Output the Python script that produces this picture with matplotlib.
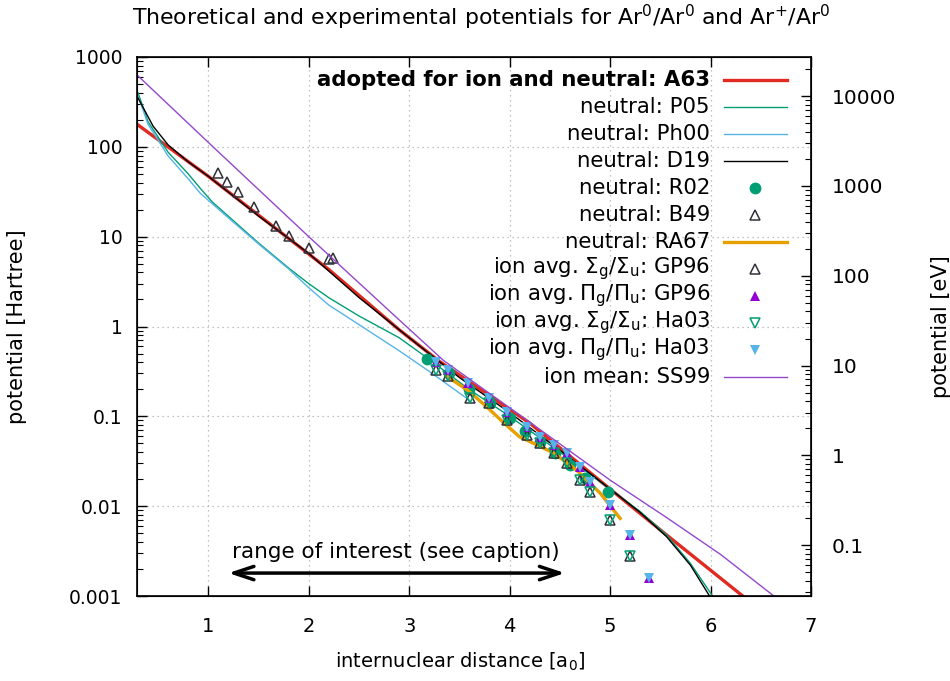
import matplotlib
matplotlib.use("Agg")
import matplotlib.pyplot as plt
from matplotlib.ticker import FixedLocator, FixedFormatter, LogLocator, NullFormatter
from matplotlib.lines import Line2D

plt.rcParams['font.family'] = ['DejaVu Sans']
plt.rcParams['mathtext.fontset'] = 'dejavusans'

HARTREE_EV = 27.211

# ---------------- data ----------------
a63_x = [0.3, 1.0, 2.2, 2.9, 3.3, 4.2, 5.0, 5.56, 6.32]
a63_y = [175, 47, 4.3, 0.92, 0.41, 0.084, 0.0155, 0.0048, 0.001]

p05_x = [0.3, 0.4, 0.6, 0.8, 0.92, 1.04, 1.5, 1.8, 2.0, 2.2, 2.5, 2.9, 3.2, 3.6, 4.0, 4.5, 5.0, 5.3, 5.56, 5.8, 6.02]
p05_y = [400, 190, 87, 50, 34.5, 24.3, 8.5, 4.47, 3.0, 2.09, 1.31, 0.75, 0.43, 0.198, 0.1, 0.04, 0.0155, 0.0087, 0.0048, 0.0023, 0.001]

ph00_x = [0.3, 0.4, 0.6, 0.8, 0.92, 1.2, 1.5, 1.8, 2.0, 2.2, 2.5, 2.9, 3.2, 3.6]
ph00_y = [370, 178, 79, 44, 30.4, 16.2, 8.3, 4.37, 2.7, 1.73, 1.05, 0.537, 0.316, 0.151]

d19_x = [0.3, 0.45, 0.6, 0.8, 1.0, 1.5, 2.0, 2.5, 3.0, 3.5, 4.0, 4.5, 5.0, 5.3, 5.56, 5.8, 5.99]
d19_y = [350, 170, 105, 68, 47, 17, 6.5, 2.1, 0.75, 0.27, 0.11, 0.042, 0.0155, 0.0085, 0.0046, 0.0022, 0.001]

r02_x = [3.18, 3.4, 3.6, 3.8, 4.0, 4.15, 4.3, 4.45, 4.6, 4.75, 4.98]
r02_y = [0.43, 0.30, 0.20, 0.14, 0.095, 0.068, 0.052, 0.039, 0.029, 0.0205, 0.0144]

b49_x = [1.10, 1.19, 1.30, 1.45, 1.67, 1.80, 2.0, 2.2, 2.24]
b49_y = [50.7, 40.9, 31.7, 21.6, 13.2, 10.2, 7.4, 5.7, 5.8]

ra67_x = [3.38, 3.58, 3.77, 3.94, 4.1, 4.24, 4.44, 4.67, 4.9, 5.1]
ra67_y = [0.276, 0.196, 0.128, 0.085, 0.059, 0.050, 0.039, 0.025, 0.014, 0.0073]

gp96_sig_x = [3.27, 3.39, 3.61, 3.79, 3.97, 4.17, 4.3, 4.44, 4.57, 4.70, 4.8, 5.0, 5.2]
gp96_sig_y = [0.33, 0.28, 0.158, 0.14, 0.091, 0.062, 0.050, 0.039, 0.030, 0.0196, 0.0144, 0.0070, 0.0028]

gp96_pi_x = [3.27, 3.39, 3.59, 3.79, 3.97, 4.17, 4.30, 4.44, 4.57, 4.70, 4.80, 5.0, 5.2, 5.39]
gp96_pi_y = [0.405, 0.33, 0.233, 0.158, 0.113, 0.077, 0.059, 0.048, 0.039, 0.0275, 0.0187, 0.0103, 0.0048, 0.0016]

ha03_sig_x = [3.27, 3.39, 3.61, 3.79, 3.97, 4.17, 4.3, 4.44, 4.57, 4.70, 4.8, 5.0, 5.2]
ha03_sig_y = [0.33, 0.28, 0.158, 0.14, 0.091, 0.062, 0.050, 0.039, 0.030, 0.0196, 0.0144, 0.0070, 0.0028]

ha03_pi_x = [3.27, 3.39, 3.59, 3.79, 3.97, 4.17, 4.30, 4.44, 4.57, 4.70, 4.80, 5.0, 5.2, 5.39]
ha03_pi_y = [0.405, 0.33, 0.233, 0.158, 0.113, 0.077, 0.059, 0.048, 0.039, 0.0275, 0.0187, 0.0103, 0.0048, 0.0016]

ss99_x = [0.3, 1.0, 2.0, 2.8, 3.34, 4.2, 5.0, 5.56, 6.1, 6.63]
ss99_y = [617, 112, 10, 1.5, 0.42, 0.086, 0.0195, 0.0075, 0.0029, 0.001]

labels = [
    "adopted for ion and neutral: A63",
    "neutral: P05",
    "neutral: Ph00",
    "neutral: D19",
    "neutral: R02",
    "neutral: B49",
    "neutral: RA67",
    r"ion avg. $\Sigma_{\mathrm{g}}/\Sigma_{\mathrm{u}}$: GP96",
    r"ion avg. $\Pi_{\mathrm{g}}/\Pi_{\mathrm{u}}$: GP96",
    r"ion avg. $\Sigma_{\mathrm{g}}/\Sigma_{\mathrm{u}}$: Ha03",
    r"ion avg. $\Pi_{\mathrm{g}}/\Pi_{\mathrm{u}}$: Ha03",
    "ion mean: SS99",
]

left_ticks = [0.001, 0.01, 0.1, 1, 10, 100, 1000]
left_ticklabels = ["0.001", "0.01", "0.1", "1", "10", "100", "1000"]
right_ticks = [0.1, 1, 10, 100, 1000, 10000]
right_ticklabels = ["0.1", "1", "10", "100", "1000", "10000"]
x_ticks = [1, 2, 3, 4, 5, 6, 7]

# ---------------- styles ----------------
RED = '#e02a22'
TEAL = '#009e73'
CYAN = '#56b4e9'
ORANGE = '#e6a000'
PURPLE = '#9448cc'
DARK = '#303038'
PURP_F = '#9400d3'

series = [
    (a63_x, a63_y, dict(color=RED, lw=2.4, ls='-')),
    (p05_x, p05_y, dict(color=TEAL, lw=1.0, ls='-')),
    (ph00_x, ph00_y, dict(color=CYAN, lw=1.0, ls='-')),
    (d19_x, d19_y, dict(color='black', lw=1.0, ls='-')),
    (r02_x, r02_y, dict(color=TEAL, ls='none', marker='o', ms=7.5, mec=TEAL)),
    (b49_x, b49_y, dict(color=DARK, ls='none', marker='^', ms=6.5, mfc='none', mew=1.1)),
    (ra67_x, ra67_y, dict(color=ORANGE, lw=2.4, ls='-')),
    (gp96_sig_x, gp96_sig_y, dict(color=DARK, ls='none', marker='^', ms=6.5, mfc='none', mew=1.1)),
    (gp96_pi_x, gp96_pi_y, dict(color=PURP_F, ls='none', marker='^', ms=6.5, mew=0)),
    (ha03_sig_x, ha03_sig_y, dict(color=TEAL, ls='none', marker='v', ms=6.5, mfc='none', mew=1.1)),
    (ha03_pi_x, ha03_pi_y, dict(color=CYAN, ls='none', marker='v', ms=7.5, mew=0)),
    (ss99_x, ss99_y, dict(color=PURPLE, lw=1.0, ls='-')),
]

# ---------------- figure ----------------
fig = plt.figure(figsize=(9.5, 6.81), dpi=100)
ax = fig.add_axes([137 / 950, 85 / 681, 674 / 950, 539 / 681])
ax.set_yscale('log')
ax.set_xlim(0.29, 7.0)
ax.set_ylim(1e-3, 1e3)

for xs, ys, st in series:
    ax.plot(xs, ys, **st, clip_on=True)

# grid
ax.grid(True, which='major', axis='both', color='#b0b0b0', lw=0.9, ls=(0, (1, 3)))
ax.set_axisbelow(True)

# ticks
ax.xaxis.set_major_locator(FixedLocator(x_ticks))
ax.set_xticklabels([str(t) for t in x_ticks])
ax.yaxis.set_major_locator(FixedLocator(left_ticks))
ax.yaxis.set_major_formatter(FixedFormatter(left_ticklabels))
ax.yaxis.set_minor_locator(LogLocator(base=10, subs=range(2, 10), numticks=20))
ax.yaxis.set_minor_formatter(NullFormatter())
ax.tick_params(axis='x', which='major', direction='in', top=True, length=7, width=1.0, labelsize=14, pad=15)
ax.tick_params(axis='y', which='major', direction='in', right=False, length=7, width=1.0, labelsize=13.5, pad=10.5)
ax.tick_params(axis='y', which='minor', direction='in', right=False, length=4, width=0.8)
for sp in ax.spines.values():
    sp.set_linewidth(1.2)

ax2 = ax.twinx()
ax2.set_yscale('log')
ax2.set_ylim(1e-3 * HARTREE_EV, 1e3 * HARTREE_EV)
ax2.yaxis.set_major_locator(FixedLocator(right_ticks))
ax2.yaxis.set_major_formatter(FixedFormatter(right_ticklabels))
ax2.yaxis.set_minor_locator(LogLocator(base=10, subs=range(2, 10), numticks=20))
ax2.yaxis.set_minor_formatter(NullFormatter())
ax2.tick_params(axis='y', which='major', direction='in', length=7, width=1.0, labelsize=14.5, pad=15)
ax2.tick_params(axis='y', which='minor', direction='in', length=4, width=0.8)

ax.set_xlabel(r"internuclear distance [a$_0$]", fontsize=14)
ax.xaxis.set_label_coords((460 - 137) / 674, -0.102)
ax.set_ylabel("potential [Hartree]", fontsize=15)
ax.yaxis.set_label_coords(-0.163, 0.5)
ax2.set_ylabel("potential [eV]", fontsize=15, labelpad=25)

fig.text(481 / 950, 1 - 17 / 681,
         r"Theoretical and experimental potentials for Ar$^0$/Ar$^0$ and Ar$^{+}$/Ar$^0$",
         ha='center', va='center', fontsize=15.8)

# arrow: range of interest
ax.annotate('', xy=(1.2, 0.0018), xytext=(4.55, 0.0018),
            arrowprops=dict(arrowstyle='<->,head_length=0.6,head_width=0.2', lw=2.5,
                            color='black', mutation_scale=24, shrinkA=0, shrinkB=0))
ax.text(2.87, 0.0031, "range of interest (see caption)", ha='center', va='center', fontsize=15.5)

# manual legend (gnuplot-like key)
x_text = (710 - 137) / 674
x_l0 = (724 - 137) / 674
x_l1 = (787 - 137) / 674
x_mk = (755 - 137) / 674
for i, (lab, (xs, ys, st)) in enumerate(zip(labels, series)):
    yy = (596 - (80 + 27.0 * i)) / 539
    ax.text(x_text, yy, lab, transform=ax.transAxes, ha='right', va='center',
            fontsize=15.3, fontweight='bold' if i == 0 else 'normal', zorder=5)
    if st.get('ls', '-') == 'none':
        ax.add_line(Line2D([x_mk], [yy], transform=ax.transAxes, clip_on=False, **st))
    else:
        ax.add_line(Line2D([x_l0, x_l1], [yy, yy], transform=ax.transAxes, clip_on=False, **st))

fig.savefig("out.png", dpi=100)
